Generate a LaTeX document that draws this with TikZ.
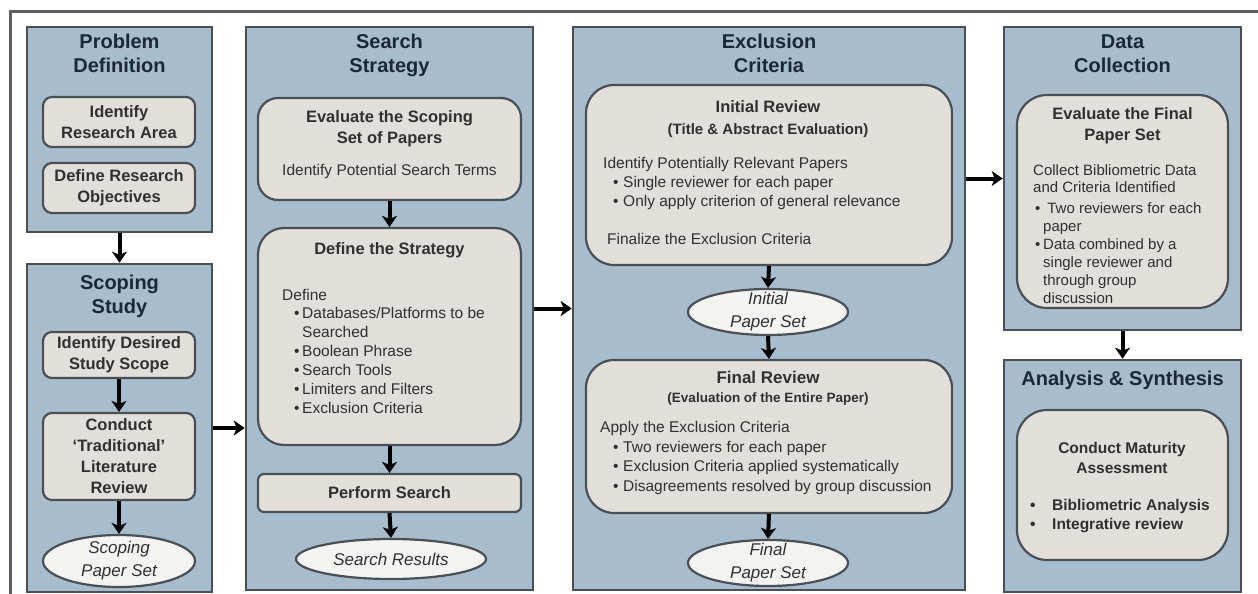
\documentclass[tikz,border=0pt]{standalone}
\usepackage{fontspec}
\setmainfont{Liberation Sans}
\usetikzlibrary{arrows.meta,shapes.geometric}
\definecolor{colfill}{RGB}{167,189,205}
\definecolor{boxfill}{RGB}{226,223,218}
\definecolor{ellfill}{RGB}{243,243,241}
\definecolor{edgec}{RGB}{74,79,85}
\definecolor{framec}{RGB}{95,95,95}
\definecolor{titlec}{RGB}{26,40,58}
\definecolor{txtc}{RGB}{48,48,48}
\newcommand\myfs[2]{\fontsize{#1}{#2}\selectfont}
\newcommand\bul[1]{\makebox[#1][l]{\textbullet}}
\begin{document}
\begin{tikzpicture}[x=1pt,y=-1pt,
  colbox/.style={draw=edgec, line width=2.6pt, fill=colfill, inner sep=0pt},
  smallbox/.style={draw=edgec, line width=2.2pt, fill=boxfill, rounded corners=9pt, inner sep=0pt, align=center, text=txtc, font=\bfseries\myfs{16.5}{21}},
  bigbox/.style={draw=edgec, line width=2.2pt, fill=boxfill, inner sep=0pt},
  ell/.style={ellipse, draw=edgec, line width=2.2pt, fill=ellfill, inner sep=0pt},
  elltxt/.style={inner sep=0pt, align=center, text=txtc, font=\itshape\myfs{17}{23}},
  ttl/.style={font=\bfseries\myfs{20}{24}, text=titlec, align=center, inner sep=0pt},
  btitle/.style={font=\bfseries\myfs{16.5}{21}, text=txtc, align=center, inner sep=0pt},
  body/.style={font=\myfs{15.5}{19}, text=txtc, align=left, inner sep=0pt},
  arr/.style={-{Stealth[length=11pt,width=15pt,inset=3pt]}, line width=4pt, black},
]
\useasboundingbox (0,0) rectangle (1258,594);
% frame
\draw[framec, line width=3pt] (1258,12) -- (10,12) -- (10,594);

% ---------- Problem Definition ----------
\node[colbox, minimum width=185pt, minimum height=205pt] (pd) at (119.5,129.5) {};
\node[ttl, anchor=north] (pdt) at (119.5,34) {Problem\\Definition};
\node[smallbox, minimum width=152pt, minimum height=50pt] (ira) at (119,122) {Identify\\Research Area};
\node[smallbox, minimum width=152pt, minimum height=50pt] (dro) at (119,188) {Define Research\\Objectives};

% ---------- Scoping Study ----------
\node[colbox, minimum width=185pt, minimum height=328pt] (ss) at (119.5,428) {};
\node[ttl, anchor=north] (sst) at (119.5,275) {Scoping\\Study};
\node[smallbox, minimum width=152pt, minimum height=46pt] (ids) at (119,355) {Identify Desired\\Study Scope};
\node[smallbox, minimum width=152pt, minimum height=87pt] (ctl) at (119,456.5) {Conduct\\`Traditional'\\Literature\\Review};
\node[ell, minimum width=152pt, minimum height=52pt] (spe) at (119,561) {};
\node[elltxt] (spet) at (spe) {Scoping\\Paper Set};

\draw[arr] (pd.south) -- (ss.north);
\draw[arr] (ids.south) -- (ctl.north);
\draw[arr] (ctl.south) -- (spe.north);

% ---------- Search Strategy ----------
\node[colbox, minimum width=287pt, minimum height=563pt] (st) at (389.5,308.5) {};
\node[ttl, anchor=north] (stt) at (389.5,34) {Search\\Strategy};
\node[bigbox, rounded corners=20pt, minimum width=263pt, minimum height=102pt] (esp) at (389.5,149) {};
\node[btitle, anchor=north] (espt) at (389.5,110.5) {Evaluate the Scoping\\Set of Papers};
\node[body, anchor=north] (espb) at (389.5,164) {Identify Potential Search Terms};
\node[bigbox, rounded corners=26pt, minimum width=263pt, minimum height=217pt] (dts) at (389.5,336.5) {};
\node[btitle, anchor=north] (dtst) at (389.5,242) {Define the Strategy};
\node[body, anchor=north west] (dtsd) at (282,289) {Define};
\node[body, anchor=north west] (dtsl) at (294,307) {\bul{8pt}Databases/Platforms to be\\\hspace*{8pt}Searched\\\bul{8pt}Boolean Phrase\\\bul{8pt}Search Tools\\\bul{8pt}Limiters and Filters\\\bul{8pt}Exclusion Criteria};
\node[bigbox, rounded corners=6pt, minimum width=263pt, minimum height=38pt, font=\bfseries\myfs{16.5}{20}, text=txtc] (ps) at (389.5,493) {Perform Search};
\node[ell, minimum width=190pt, minimum height=40pt] (sr) at (391,559) {};
\node[elltxt] (srt) at (sr) {Search Results};

\draw[arr] (esp.south) -- (dts.north);
\draw[arr] (dts.south) -- (ps.north);
\draw[arr] (ps.south) -- (sr.north);
\draw[arr] (ss.east) -- (ss.east -| st.west);

% ---------- Exclusion Criteria ----------
\node[colbox, minimum width=392pt, minimum height=563pt] (ex) at (769,308.5) {};
\node[ttl, anchor=north] (ext) at (769,34) {Exclusion\\Criteria};
\node[bigbox, rounded corners=28pt, minimum width=366pt, minimum height=180pt] (ir) at (769,175) {};
\node[btitle, anchor=north] (irt) at (768,100) {Initial Review};
\node[btitle, anchor=north, font=\bfseries\myfs{15}{19}] (irs) at (768,123) {(Title \& Abstract Evaluation)};
\node[body, anchor=north west] (iri) at (603,157) {Identify Potentially Relevant Papers};
\node[body, anchor=north west] (irl) at (613,176) {\bul{10pt}Single reviewer for each paper\\\bul{10pt}Only apply criterion of general relevance};
\node[body, anchor=north west] (irf) at (607,233) {Finalize the Exclusion Criteria};
\node[ell, minimum width=160pt, minimum height=46pt] (ips) at (768,312) {};
\node[elltxt] (ipst) at (ips) {Initial\\Paper Set};
\node[bigbox, rounded corners=28pt, minimum width=366pt, minimum height=153pt] (fr) at (769,436.5) {};
\node[btitle, anchor=north, font=\bfseries\myfs{17}{21}] (frt) at (768,371) {Final Review};
\node[btitle, anchor=north, font=\bfseries\myfs{13.5}{17}] (frs) at (768,393) {(Evaluation of the Entire Paper)};
\node[body, anchor=north west] (fra) at (600,421) {Apply the Exclusion Criteria};
\node[body, anchor=north west, font=\myfs{15.5}{19.5}] (frl) at (613,441) {\bul{10pt}Two reviewers for each paper\\\bul{10pt}Exclusion Criteria applied systematically\\\bul{10pt}Disagreements resolved by group discussion};
\node[ell, minimum width=160pt, minimum height=46pt] (fps) at (768,563) {};
\node[elltxt] (fpst) at (fps) {Final\\Paper Set};

\draw[arr] (ir.south) -- (ips.north);
\draw[arr] (ips.south) -- (fr.north);
\draw[arr] (fr.south) -- (fps.north);
\draw[arr] (st.east) -- (ex.west);

% ---------- Data Collection ----------
\node[colbox, minimum width=237pt, minimum height=303pt] (dc) at (1122.5,178.5) {};
\node[ttl, anchor=north] (dct) at (1122.5,35) {Data\\Collection};
\node[bigbox, rounded corners=30pt, minimum width=211pt, minimum height=213pt] (ef) at (1122.5,201.5) {};
\node[btitle, anchor=north] (eft) at (1122.5,107) {Evaluate the Final\\Paper Set};
\node[body, anchor=north west, font=\myfs{15}{17}] (efb) at (1033,164) {Collect Bibliometric Data\\and Criteria Identified};
\node[body, anchor=north west, font=\myfs{15}{18}] (efl) at (1035,202) {\bul{8pt}\ Two reviewers for each\\\hspace*{8pt}paper\\\bul{8pt}Data combined by a\\\hspace*{8pt}single reviewer and\\\hspace*{8pt}through group\\\hspace*{8pt}discussion};

\draw[arr] (dc.west -| ex.east) -- (dc.west);

% ---------- Analysis & Synthesis ----------
\node[colbox, minimum width=237pt, minimum height=232pt] (as) at (1122.5,476) {};
\node[ttl, anchor=north] (ast) at (1122.5,370.5) {Analysis \& Synthesis};
\node[bigbox, rounded corners=30pt, minimum width=211pt, minimum height=150pt] (cm) at (1122.5,485) {};
\node[btitle, anchor=north, font=\bfseries\myfs{15.5}{20}] (cmt) at (1122,442) {Conduct Maturity\\Assessment};
\node[body, anchor=north west, font=\bfseries\myfs{15.5}{19}] (cml) at (1030,499) {\bul{22pt}Bibliometric Analysis\\\bul{22pt}Integrative review};

\draw[arr] (dc.south) -- (as.north);
\end{tikzpicture}
\end{document}
